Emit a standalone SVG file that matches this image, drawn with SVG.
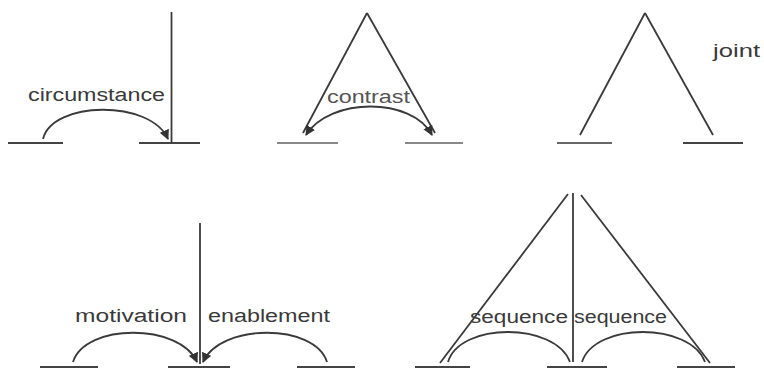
<svg xmlns="http://www.w3.org/2000/svg" width="764" height="369" viewBox="0 0 764 369">
<style>
.seg{stroke:#444;stroke-width:2.2;fill:none}
.ln{stroke:#3a3a3a;stroke-width:1.8;fill:none}
.arc{stroke:#3a3a3a;stroke-width:1.8;fill:none}
.lbl{font-family:"Liberation Sans",Arial,sans-serif;font-size:18px;fill:#3a3a3a}
</style>
<defs>
<marker id="ah" viewBox="0 0 10 10" refX="9" refY="5" markerWidth="10" markerHeight="10" markerUnits="userSpaceOnUse" orient="auto-start-reverse">
<path d="M0,0 L10,5 L0,10 z" fill="#333"/>
</marker>
</defs>
<rect width="764" height="369" fill="#fff"/>
<g id="nodes">
<g id="n1a"><line class="seg" x1="8" y1="143" x2="63" y2="143"/></g>
<g id="n1b"><line class="seg" x1="139" y1="143" x2="200" y2="143"/></g>
<g id="n2a"><line class="seg" x1="277" y1="143" x2="338" y2="143" style="stroke:#888"/></g>
<g id="n2b"><line class="seg" x1="405" y1="143" x2="463" y2="143" style="stroke:#888"/></g>
<g id="n3a"><line class="seg" x1="557" y1="143" x2="612" y2="143" style="stroke:#666"/></g>
<g id="n3b"><line class="seg" x1="683" y1="143" x2="743" y2="143"/></g>
<g id="n4a"><line class="seg" x1="40" y1="367" x2="98" y2="367"/></g>
<g id="n4b"><line class="seg" x1="168" y1="367" x2="230" y2="367"/></g>
<g id="n4c"><line class="seg" x1="297" y1="367" x2="355" y2="367"/></g>
<g id="n5a"><line class="seg" x1="415" y1="367" x2="470" y2="367"/></g>
<g id="n5b"><line class="seg" x1="547" y1="367" x2="607" y2="367"/></g>
<g id="n5c"><line class="seg" x1="677" y1="367" x2="735" y2="367"/></g>
</g>
<g id="connectors">
<line class="ln" x1="171.5" y1="12" x2="171.5" y2="143"/>
<path class="arc" d="M43,139 C52,101 150,99 168,139" marker-end="url(#ah)"/>
<line class="ln" x1="367" y1="13" x2="303" y2="133"/>
<line class="ln" x1="367" y1="13" x2="435" y2="133"/>
<path class="arc" d="M306,135 C330,97 412,97 432,135" marker-start="url(#ah)" marker-end="url(#ah)"/>
<line class="ln" x1="645" y1="13" x2="580" y2="135"/>
<line class="ln" x1="645" y1="13" x2="713" y2="135"/>
<line class="ln" x1="200" y1="223" x2="200" y2="364"/>
<path class="arc" d="M73,362 C85,323 180,323 197,362" marker-end="url(#ah)"/>
<path class="arc" d="M327,362 C315,323 220,323 203,362" marker-end="url(#ah)"/>
<line class="ln" x1="573" y1="193" x2="573" y2="362"/>
<line class="ln" x1="568" y1="194" x2="440" y2="363"/>
<line class="ln" x1="581" y1="195" x2="710" y2="363"/>
<path class="arc" d="M448,362 C460,322 555,322 570,362"/>
<path class="arc" d="M582,362 C595,322 690,322 705,362"/>
</g>
<g id="labels">
<text class="lbl" x="28" y="101" textLength="137" lengthAdjust="spacingAndGlyphs">circumstance</text>
<text class="lbl" x="327" y="103" textLength="83" lengthAdjust="spacingAndGlyphs" style="fill:#555">contrast</text>
<text class="lbl" x="713" y="57" textLength="47" lengthAdjust="spacingAndGlyphs" style="font-size:19px">joint</text>
<text class="lbl" x="75" y="322" textLength="112" lengthAdjust="spacingAndGlyphs">motivation</text>
<text class="lbl" x="208" y="322" textLength="122" lengthAdjust="spacingAndGlyphs">enablement</text>
<text class="lbl" x="470" y="323" textLength="98" lengthAdjust="spacingAndGlyphs">sequence</text>
<text class="lbl" x="574" y="323" textLength="93" lengthAdjust="spacingAndGlyphs">sequence</text>
</g>
</svg>
